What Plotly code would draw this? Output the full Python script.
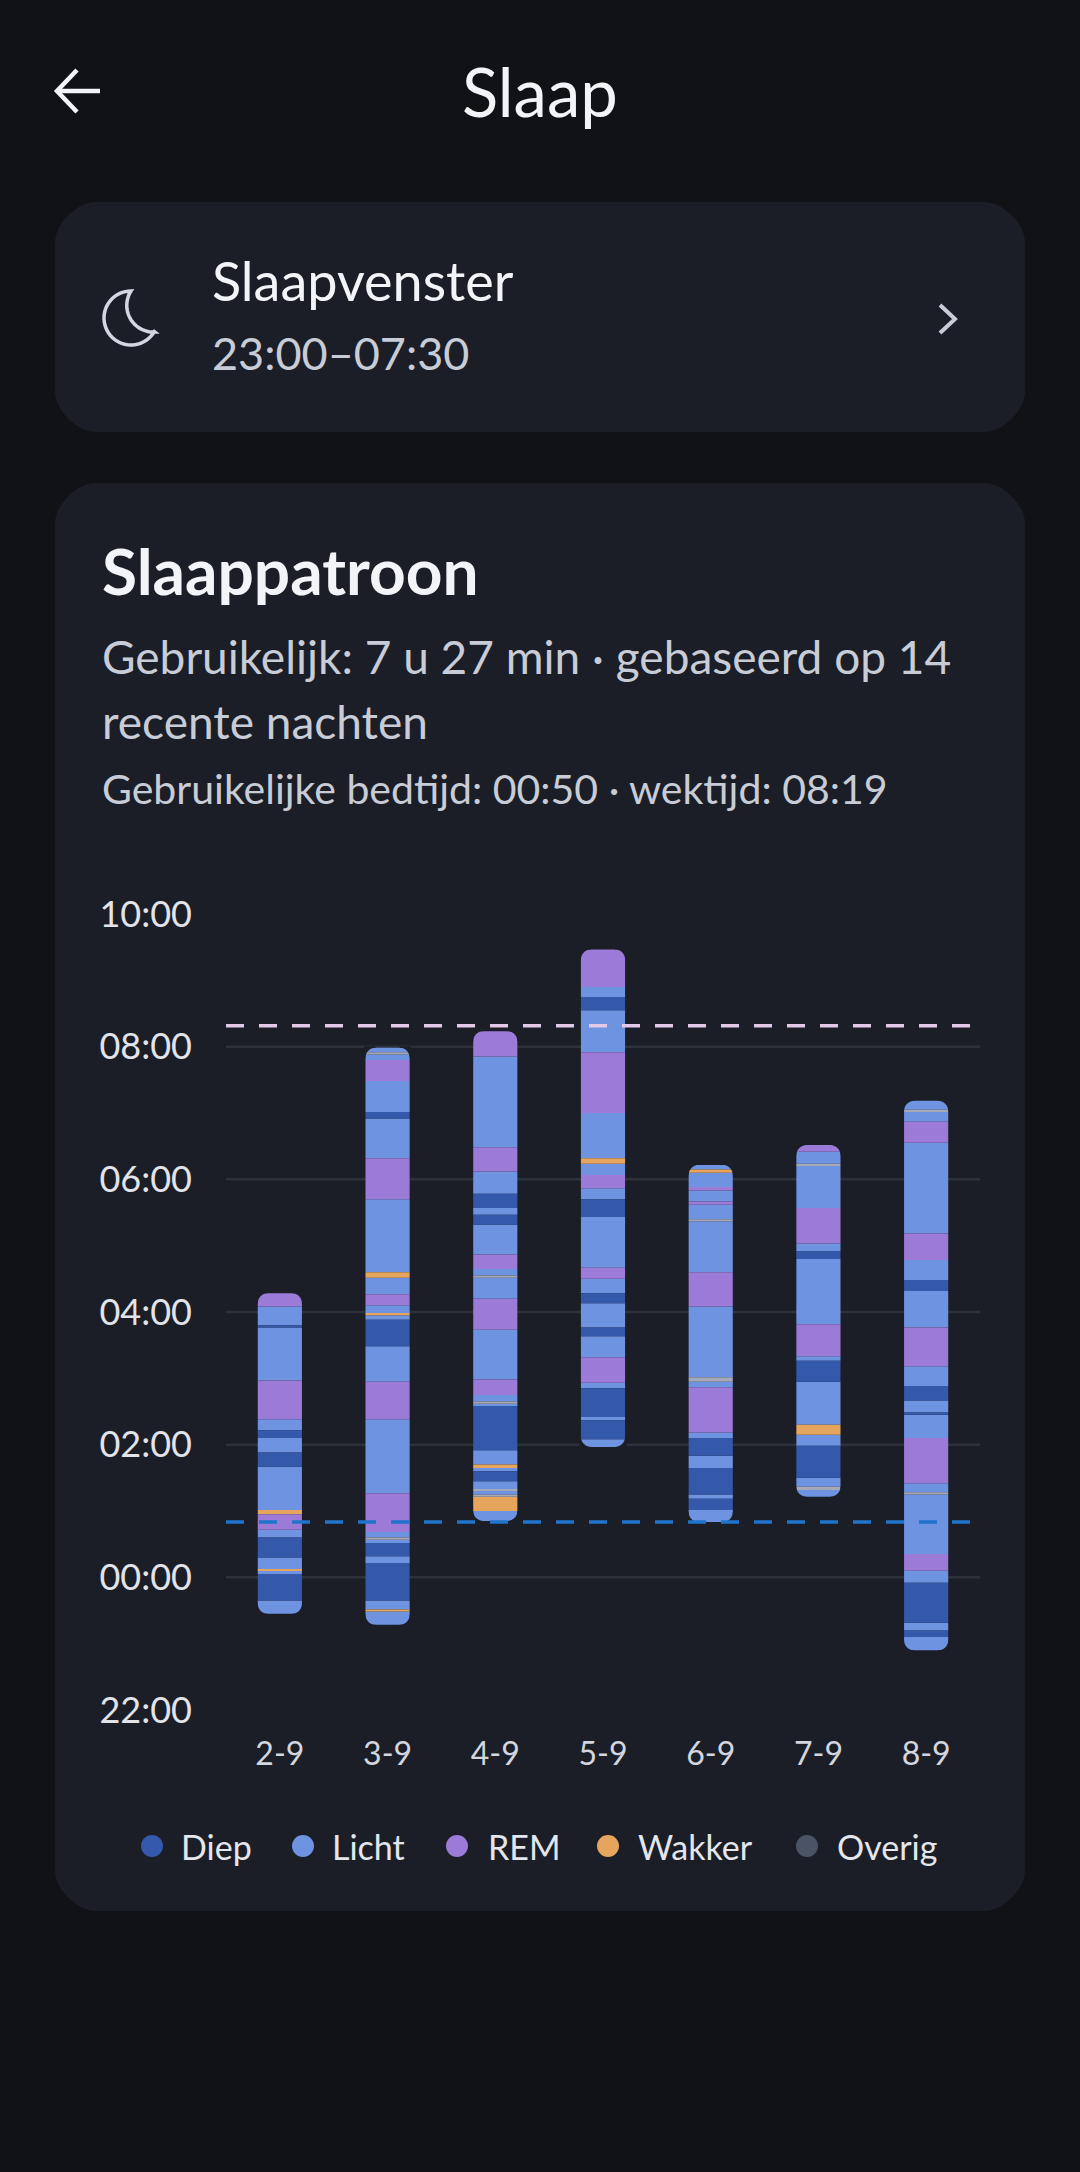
import plotly.graph_objects as go
import numpy as np

W, H = 1080, 2172

# nights and when they started (bar bottom)
nights = ["2-9", "3-9", "4-9", "5-9", "6-9", "7-9", "8-9"]
bedtimes = ["23:27", "23:17", "00:51", "01:58", "00:50", "01:13", "22:54"]

# stages from bottom to top: D=Diep, L=Licht, R=REM, W=Wakker, O=Overig
stages_2_9 = list("LDLWLDLRWLDLDLRLDLR")
minutes_2_9 = [12, 24, 3, 1, 11, 18, 7, 14, 4, 39, 13, 13, 7, 10, 35, 48, 2, 17, 12]
stages_3_9 = list("LWLDLDLOLRLRLDLWLRLWLRLDLRLOL")
minutes_3_9 = [12, 2, 8, 34, 6, 12, 3, 2, 5, 35, 67, 34, 32, 24, 4, 2, 7, 10, 15, 5,
               66, 37, 36, 6, 28, 19, 5, 2, 4]
stages_4_9 = list("LWOLOLDLWLDLOLRLRLOLRLDLDLRLR")
minutes_4_9 = [9, 13, 2, 3, 2, 7, 9, 3, 3, 13, 40, 2, 2, 6, 14, 45, 28, 19, 2, 6,
               13, 27, 9, 6, 13, 20, 22, 82, 23]
stages_5_9 = list("LDLDLRLDLDLRLDLRLWLRLDLR")
minutes_5_9 = [7, 17, 3, 26, 5, 23, 19, 8, 22, 9, 13, 10, 46, 16, 10, 12, 10, 5, 41,
               55, 38, 12, 9, 34]
stages_6_9 = list("LDLDLDLRLOLRLOLRLRLWL")
minutes_6_9 = [11, 10, 4, 24, 11, 16, 5, 41, 5, 4, 64, 31, 46, 2, 13, 3, 10, 3, 13, 3, 4]
stages_7_9 = list("LOLDLWLDLRLDLRLOLR")
minutes_7_9 = [6, 3, 8, 29, 10, 9, 39, 19, 4, 29, 59, 7, 7, 32, 38, 2, 11, 6]
stages_8_9 = list("LDLDLRLOLRLDLDLRLDLRLRLOL")
minutes_8_9 = [12, 6, 7, 36, 11, 15, 54, 2, 8, 41, 21, 2, 11, 13, 18, 35, 33, 10, 18,
               24, 82, 19, 9, 2, 8]

all_stages = [stages_2_9, stages_3_9, stages_4_9, stages_5_9, stages_6_9, stages_7_9, stages_8_9]
all_minutes = [minutes_2_9, minutes_3_9, minutes_4_9, minutes_5_9, minutes_6_9, minutes_7_9, minutes_8_9]

usual_bedtime = "00:50"
usual_waketime = "08:19"

tick_hours = [-2, 0, 2, 4, 6, 8, 10]
tick_labels = ["22:00", "00:00", "02:00", "04:00", "06:00", "08:00", "10:00"]

legend_codes = ["D", "L", "R", "W", "O"]
legend_names = ["Diep", "Licht", "REM", "Wakker", "Overig"]

bar_colors = {"D": "#3459ab", "L": "#6e93e1", "R": "#9c7ad7", "W": "#e6a55d", "O": "#a5a9b7"}
legend_colors = {"D": "#3459ab", "L": "#6e93e1", "R": "#9c7ad7", "W": "#e6a55d", "O": "#4b5466"}

PAGE = "#111215"
CARD = "#1b1e26"
WHITE = "#f3f4f7"
SOFT = "#c8ccd6"
FONT = "Lato, sans-serif"

BAR_W = 0.41
CORNER = 10

# plot area in pixels
PL, PR, PT, PB = 226, 980, 914, 1710


def fx(px):
    return (px - PL) / (PR - PL)


def fy(py):
    return (PB - py) / (PB - PT)


def to_hours(s):
    h, m = map(int, s.split(":"))
    v = h + m / 60
    return v - 24 if v > 12 else v


def rounded_rect(x0, y0, x1, y1, r):
    k = 0.45 * r
    return (f"M {fx(x0 + r)},{fy(y0)} L {fx(x1 - r)},{fy(y0)} "
            f"C {fx(x1 - r + k)},{fy(y0)} {fx(x1)},{fy(y0 + r - k)} {fx(x1)},{fy(y0 + r)} "
            f"L {fx(x1)},{fy(y1 - r)} "
            f"C {fx(x1)},{fy(y1 - r + k)} {fx(x1 - r + k)},{fy(y1)} {fx(x1 - r)},{fy(y1)} "
            f"L {fx(x0 + r)},{fy(y1)} "
            f"C {fx(x0 + r - k)},{fy(y1)} {fx(x0)},{fy(y1 - r + k)} {fx(x0)},{fy(y1 - r)} "
            f"L {fx(x0)},{fy(y0 + r)} "
            f"C {fx(x0)},{fy(y0 + r - k)} {fx(x0 + r - k)},{fy(y0)} {fx(x0 + r)},{fy(y0)} Z")


def polyline(points, close=False):
    s = "M " + " L ".join(f"{fx(x)},{fy(y)}" for x, y in points)
    return s + (" Z" if close else "")


def corner_masks(hw, r, top):
    # pixel path (y up) hiding the two square corners at one end of a column
    sgn = 1 if top else -1
    parts = []
    for side in (-1, 1):
        ex = side * (hw + 1.5)
        cx = side * (hw - r)
        cy = -sgn * r
        angs = np.linspace(0, np.pi / 2, 10)
        arc = [(cx + side * r * np.cos(a), cy + sgn * r * np.sin(a)) for a in angs]
        pts = [(ex, cy)] + arc + [(cx, sgn * 1.5), (ex, sgn * 1.5)]
        parts.append("M " + " L ".join(f"{x:.2f},{y:.2f}" for x, y in pts) + " Z")
    return " ".join(parts)


# collect segments per stage
groups = {}
ends = []
for i, (bed, stg, mins) in enumerate(zip(bedtimes, all_stages, all_minutes)):
    t = to_hours(bed)
    start = t
    for s, m in zip(stg, mins):
        d = m / 60
        g = groups.setdefault(s, {"x": [], "base": [], "y": []})
        g["x"].append(i)
        g["base"].append(t)
        g["y"].append(d)
        t += d
    ends.append((i, start, t))

fig = go.Figure()
for s, g in groups.items():
    fig.add_trace(go.Bar(
        x=g["x"], y=g["y"], base=g["base"], width=BAR_W,
        marker=dict(color=bar_colors[s], line=dict(width=0)),
        showlegend=False, hoverinfo="skip",
    ))

shapes = []
# cards
shapes.append(dict(type="path", path=rounded_rect(55, 202, 1025, 432, 40), xref="paper", yref="paper",
                   fillcolor=CARD, line=dict(width=0), layer="below"))
shapes.append(dict(type="path", path=rounded_rect(55, 483, 1025, 1911, 40), xref="paper", yref="paper",
                   fillcolor=CARD, line=dict(width=0), layer="below"))

# grid lines
for h in tick_hours[1:-1]:
    shapes.append(dict(type="line", xref="paper", yref="y", x0=0, x1=1, y0=h, y1=h,
                       line=dict(color="#2d313a", width=2.5), layer="below"))

# rounded column ends
hw = BAR_W * (PR - PL) / len(nights) / 2
for i, start, end in ends:
    for yv, top in ((end, True), (start, False)):
        shapes.append(dict(type="path", xref="x", yref="y", xsizemode="pixel", ysizemode="pixel",
                           xanchor=i, yanchor=yv, path=corner_masks(hw, CORNER, top),
                           fillcolor=CARD, line=dict(width=0), layer="above"))

# usual wake / bed lines
shapes.append(dict(type="line", xref="paper", yref="y", x0=0, x1=1,
                   y0=to_hours(usual_waketime), y1=to_hours(usual_waketime),
                   line=dict(color="#e2c9ea", width=3.5, dash="18px,15px"), layer="above"))
shapes.append(dict(type="line", xref="paper", yref="y", x0=0, x1=1,
                   y0=to_hours(usual_bedtime), y1=to_hours(usual_bedtime),
                   line=dict(color="#1f74cc", width=3.5, dash="18px,15px"), layer="above"))

# back arrow
shapes.append(dict(type="path", xref="paper", yref="paper",
                   path=polyline([(57, 91), (100, 91)]), line=dict(color=WHITE, width=4.5)))
shapes.append(dict(type="path", xref="paper", yref="paper",
                   path=polyline([(77, 70), (57, 91), (77, 112)]), line=dict(color=WHITE, width=4.5)))

# moon icon
cx, cy, r = 131, 318, 27
a = np.radians(np.linspace(90, 330, 40))
outer = [(cx + r * np.cos(t), cy - r * np.sin(t)) for t in a]
icx, icy = 153.4, 305.4
ir = np.hypot(icx - 131, icy - 291)
b = np.radians(np.linspace(86.6, 212.7, 30))
inner = [(icx + ir * np.cos(t), icy + ir * np.sin(t)) for t in b]
shapes.append(dict(type="path", xref="paper", yref="paper", path=polyline(outer + inner, close=True),
                   line=dict(color="#d3d7e1", width=3.5)))

# chevron
shapes.append(dict(type="path", xref="paper", yref="paper",
                   path=polyline([(940, 305), (955, 319), (940, 333)]), line=dict(color=SOFT, width=4)))

# legend dots
legend_dot_x = [152, 303, 457, 608, 807]
legend_text_x = [179, 330, 486, 636, 835]
legend_y = 1846
for c, dx in zip(legend_codes, legend_dot_x):
    shapes.append(dict(type="circle", xref="paper", yref="paper", xsizemode="pixel", ysizemode="pixel",
                       xanchor=fx(dx), yanchor=fy(legend_y), x0=-11, x1=11, y0=-11, y1=11,
                       fillcolor=legend_colors[c], line=dict(width=0)))


def label(text, px, py, size, color, anchor="left", bold=False):
    if bold:
        text = f"<b>{text}</b>"
    return dict(xref="paper", yref="paper", x=fx(px), y=fy(py), text=text, showarrow=False,
                xanchor=anchor, yanchor="middle", font=dict(family=FONT, size=size, color=color))


annotations = [
    label("Slaap", 540, 91, 67, WHITE, anchor="center"),
    label("Slaapvenster", 210, 281, 54, WHITE),
    label("23:00–07:30", 210, 353, 45, SOFT),
    label("Slaappatroon", 100, 570, 64, WHITE, bold=True),
    label("Gebruikelijk: 7 u 27 min · gebaseerd op 14", 100, 656, 46, SOFT),
    label("recente nachten", 100, 721, 46, SOFT),
    label("Gebruikelijke bedtijd: 00:50 · wektijd: 08:19", 100, 788, 41, SOFT),
]
for name, tx in zip(legend_names, legend_text_x):
    annotations.append(label(name, tx, legend_y, 34, "#e4e6ec"))

fig.update_layout(
    width=W, height=H,
    margin=dict(l=PL, r=W - PR, t=PT, b=H - PB, pad=0),
    paper_bgcolor=PAGE, plot_bgcolor="rgba(0,0,0,0)",
    barmode="overlay",
    showlegend=False,
    shapes=shapes,
    annotations=annotations,
    font=dict(family=FONT),
)
fig.update_xaxes(range=[-0.5, len(nights) - 0.5], tickvals=list(range(len(nights))), ticktext=nights,
                 showgrid=False, zeroline=False, showline=False, ticks="",
                 tickfont=dict(family=FONT, size=32, color="#d3d6de"), ticklabelstandoff=22)
fig.update_yaxes(range=[tick_hours[0], tick_hours[-1]], tickvals=tick_hours, ticktext=tick_labels,
                 showgrid=False, zeroline=False, showline=False, ticks="",
                 tickfont=dict(family=FONT, size=36, color="#e2e4ea"), ticklabelstandoff=33)

fig.write_html("out.html", config={"displayModeBar": False},
               post_script="document.body.style.margin='0';document.body.style.overflow='hidden';")
